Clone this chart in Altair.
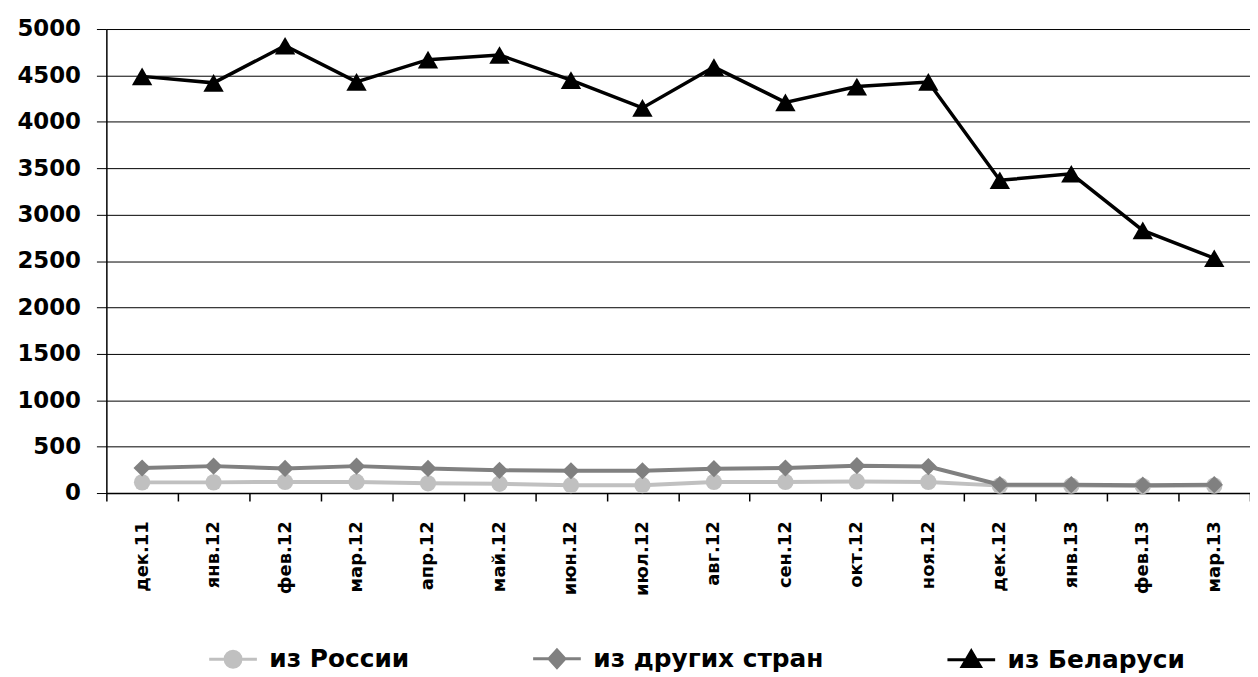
import json
import altair as alt
import pandas as pd

months = ["дек.11", "янв.12", "фев.12", "мар.12", "апр.12", "май.12", "июн.12", "июл.12",
          "авг.12", "сен.12", "окт.12", "ноя.12", "дек.12", "янв.13", "фев.13", "мар.13"]
russia = [115, 115, 120, 120, 105, 100, 85, 85, 120, 120, 125, 120, 80, 80, 75, 80]
other = [270, 290, 265, 290, 265, 245, 240, 240, 262, 270, 295, 285, 90, 90, 85, 90]
belarus = [4490, 4420, 4820, 4430, 4670, 4720, 4450, 4150, 4590, 4210, 4380, 4430, 3370, 3440, 2830, 2530]
series_names = ["из России", "из других стран", "из Беларуси"]
colors = ["#c0c0c0", "#808080", "#000000"]
shapes = ["circle", "diamond", "triangle-up"]
sizes = [270, 300, 420]
widths = [4, 4, 3.5]

rows = []
for name, vals in zip(series_names, [russia, other, belarus]):
    for i, (m, v) in enumerate(zip(months, vals)):
        rows.append({"idx": i, "month": m, "series": name, "value": v})
df = pd.DataFrame(rows)

W, H = 1151, 467
FONT = "DejaVu Sans"
step = W / 16.0

months_js = json.dumps(months, ensure_ascii=False)
x_enc = alt.X(
    "idx:Q",
    scale=alt.Scale(domain=[-0.5, 15.5], nice=False, zero=False),
    axis=alt.Axis(
        values=[i - 0.5 for i in range(17)],
        labelExpr=f"datum.value < 15 ? {months_js}[datum.value + 0.5] : ''",
        labelAngle=-90, labelOffset=step / 2, labelPadding=20,
        labelFont=FONT, labelFontSize=18, labelFontWeight="bold", labelColor="black",
        labelOverlap=False, labelBound=False, labelFlush=False,
        tickSize=8, tickColor="black", tickWidth=1.5,
        domainColor="black", domainWidth=1.5, grid=False, title=None,
    ),
)
y_enc = alt.Y(
    "value:Q",
    scale=alt.Scale(domain=[0, 5000], nice=False),
    axis=alt.Axis(
        values=list(range(0, 5001, 500)), format="d", labelFont=FONT, labelFontSize=23,
        labelFontWeight="bold",
        labelColor="black", labelPadding=16, tickSize=10, tickColor="black",
        domainColor="black", domainWidth=1.5, grid=True, gridColor="black",
        gridWidth=1, gridOpacity=1, title=None,
    ),
)

shape_paths = [
    "M-3,0H3M1,0A1,1 0 1,1 -1,0A1,1 0 1,1 1,0Z",
    "M-3,0H3M0,-1.1L1,0L0,1.1L-1,0Z",
    "M-3,0H3M0,-1.1L1.15,0.85L-1.15,0.85Z",
]
shape_sig = (
    f"datum.value === '{series_names[0]}' ? '{shape_paths[0]}' : "
    f"datum.value === '{series_names[1]}' ? '{shape_paths[1]}' : '{shape_paths[2]}'"
)
col_sig = "scale('color', datum.value)"

color_scale = alt.Scale(domain=series_names, range=colors)
legend = alt.Legend(
    title=None, orient="none", direction="horizontal", legendX=115, legendY=621,
    labelFont=FONT, labelFontSize=25, labelFontWeight="bold", labelColor="black",
    labelOffset=24, labelLimit=0,
    columnPadding=118, symbolSize=256, symbolStrokeWidth=3, symbolOpacity=1,
    symbolType=alt.ExprRef(expr=shape_sig),
    symbolFillColor=alt.ExprRef(expr=col_sig),
    symbolStrokeColor=alt.ExprRef(expr=col_sig),
)

base = alt.Chart(df)
layers = []
for k, name in enumerate(series_names):
    sub = base.transform_filter(alt.datum.series == name)
    line = sub.mark_line(strokeWidth=widths[k]).encode(
        x=x_enc, y=y_enc,
        color=alt.Color("series:N", scale=color_scale, legend=legend),
    )
    pts = sub.mark_point(filled=True, opacity=1, shape=shapes[k], size=sizes[k],
                         color=colors[k]).encode(x=x_enc, y=y_enc)
    layers += [line, pts]

chart = alt.layer(*layers).properties(
    width=W, height=H,
    padding={"left": 99, "top": 19, "right": 0, "bottom": 186},
    autosize=alt.AutoSizeParams(type="none"),
    background="white",
).configure_view(stroke=None)

chart.save("out.html", embed_options={"renderer": "svg", "actions": False})
